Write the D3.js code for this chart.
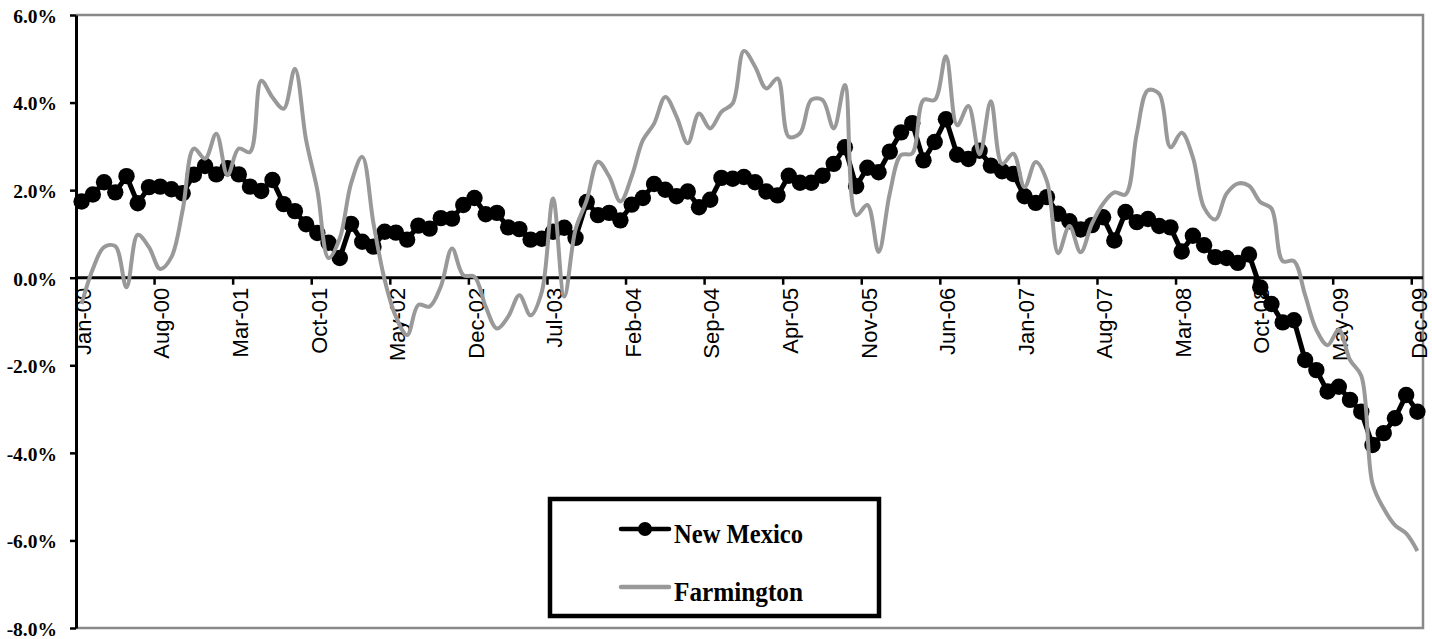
<!DOCTYPE html>
<html>
<head>
<meta charset="utf-8">
<script src="https://cdn.jsdelivr.net/npm/d3@7"></script>
<style>
  html, body { margin: 0; padding: 0; background: #fff; }
  svg { display: block; }
</style>
</head>
<body>
<svg id="chart" width="1432" height="639"></svg>
<script>
// ---- Data ----
const categories = d3.timeMonth.range(new Date(2000, 0, 1), new Date(2010, 0, 1)).map(d3.timeFormat("%b-%y"));
const tickLabels = ["Jan-00","Aug-00","Mar-01","Oct-01","May-02","Dec-02","Jul-03","Feb-04","Sep-04","Apr-05","Nov-05","Jun-06","Jan-07","Aug-07","Mar-08","Oct-08","May-09","Dec-09"];
const yTicks = [-8, -6, -4, -2, 0, 2, 4, 6];
const seriesNames = ["New Mexico", "Farmington"];

const newMexico = [
  1.74, 1.90, 2.18, 1.95, 2.32, 1.70, 2.07, 2.08, 2.02, 1.93,
  2.35, 2.55, 2.36, 2.50, 2.36, 2.08, 1.98, 2.23, 1.68, 1.52,
  1.22, 1.02, 0.80, 0.45, 1.23, 0.82, 0.71, 1.05, 1.03, 0.87,
  1.19, 1.12, 1.36, 1.35, 1.66, 1.82, 1.45, 1.48, 1.15, 1.11,
  0.87, 0.89, 1.05, 1.14, 0.91, 1.73, 1.43, 1.48, 1.31, 1.67,
  1.82, 2.14, 2.01, 1.86, 1.97, 1.61, 1.78, 2.28, 2.26, 2.30,
  2.18, 1.97, 1.88, 2.33, 2.17, 2.17, 2.33, 2.60, 2.98, 2.09,
  2.51, 2.41, 2.88, 3.32, 3.53, 2.68, 3.10, 3.62, 2.81, 2.71,
  2.90, 2.56, 2.43, 2.37, 1.86, 1.71, 1.84, 1.46, 1.29, 1.10,
  1.20, 1.38, 0.85, 1.50, 1.27, 1.34, 1.18, 1.15, 0.60, 0.96,
  0.74, 0.47, 0.45, 0.34, 0.53, -0.22, -0.60, -1.02, -0.97, -1.88,
  -2.11, -2.60, -2.49, -2.79, -3.06, -3.82, -3.55, -3.21, -2.68, -3.06
];

const farmington = [
  -0.60, 0.20, 0.70, 0.72, -0.22, 0.98, 0.70, 0.20, 0.47, 1.54,
  2.95, 2.72, 3.29, 2.34, 2.95, 2.87, 4.50, 4.12, 3.86, 4.77,
  3.14, 2.00, 0.45, 0.90, 2.15, 2.76, 1.24, -0.05, -0.89, -1.31,
  -0.62, -0.66, -0.20, 0.67, 0.06, 0.02, -0.66, -1.16, -0.89, -0.40,
  -0.86, -0.32, 1.81, -0.43, 1.10, 1.77, 2.65, 2.31, 1.74, 2.31,
  3.14, 3.52, 4.13, 3.68, 3.07, 3.75, 3.41, 3.79, 3.98, 5.18,
  4.82, 4.32, 4.55, 3.22, 3.30, 4.06, 4.06, 3.41, 4.40, 1.43,
  1.66, 0.59, 1.93, 2.80, 2.84, 4.06, 4.06, 5.06, 3.48, 3.92,
  2.82, 4.03, 2.60, 2.83, 2.07, 2.64, 2.20, 0.56, 1.18, 0.58,
  1.23, 1.69, 1.95, 1.90, 3.29, 4.28, 4.20, 2.98, 3.31, 2.75,
  1.60, 1.33, 1.92, 2.15, 2.10, 1.73, 1.58, 0.38, 0.38, -0.40,
  -1.19, -1.54, -1.19, -1.88, -2.24, -4.70, -5.27, -5.65, -5.84, -6.24
];

(function () {
// ---- Layout ----
const pLeft = 76, pRight = 1423, pTop = 15, pBottom = 628;
const svg = d3.select("#chart");

const x = d3.scaleBand().domain(categories).range([pLeft, pRight]).paddingInner(0).paddingOuter(0);
const y = d3.scaleLinear().domain([-8, 6]).range([pBottom, pTop]);
const cx = c => x(c) + x.bandwidth() / 2;

// plot frame (gray top / right / bottom)
svg.append("path")
  .attr("d", `M${pLeft},${y(6)}H${pRight}V${y(-8)}H${pLeft}`)
  .attr("fill", "none").attr("stroke", "#898989").attr("stroke-width", 2.5);

// Y axis
const yAxis = d3.axisLeft(y).tickValues(yTicks).tickSize(6).tickSizeOuter(0)
  .tickFormat(d => d.toFixed(1) + "%");
const gy = svg.append("g").attr("transform", `translate(${pLeft},0)`).call(yAxis);
gy.select(".domain").attr("stroke", "#000").attr("stroke-width", 3);
gy.selectAll(".tick line").attr("stroke", "#000").attr("stroke-width", 2.5);
gy.selectAll(".tick text")
  .attr("x", -19).attr("dy", "0.38em")
  .attr("fill", "#000")
  .style("font-family", "'Liberation Serif', 'Times New Roman', serif")
  .style("font-weight", "bold").style("font-size", "19.5px");

// zero line (category axis)
const y0 = y(0);
svg.append("line").attr("x1", pLeft).attr("x2", pRight).attr("y1", y0).attr("y2", y0)
  .attr("stroke", "#000").attr("stroke-width", 3);

const labelSet = new Set(tickLabels);
const tickCats = categories.filter((c, i) => i > 0 && labelSet.has(c));
svg.append("g").selectAll("line").data(tickCats).join("line")
  .attr("x1", d => x(d)).attr("x2", d => x(d))
  .attr("y1", y0).attr("y2", y0 + 7)
  .attr("stroke", "#000").attr("stroke-width", 2.5);

svg.append("g").selectAll("text").data(tickLabels).join("text")
  .attr("transform", d => `translate(${cx(d) + 1.5},${y0 + 10}) rotate(-90)`)
  .attr("text-anchor", "end").attr("dy", "0.35em")
  .style("font-family", "'Liberation Sans', Arial, sans-serif")
  .style("font-size", "22px").attr("fill", "#000")
  .text(d => d);

// series
const lineNM = d3.line().x((d, i) => cx(categories[i])).y(d => y(d));
const lineF = d3.line().x((d, i) => cx(categories[i])).y(d => y(d)).curve(d3.curveCatmullRom.alpha(0.5));

svg.append("path").datum(newMexico).attr("d", lineNM)
  .attr("fill", "none").attr("stroke", "#000").attr("stroke-width", 5).attr("stroke-linejoin", "round");
svg.append("g").selectAll("circle").data(newMexico).join("circle")
  .attr("cx", (d, i) => cx(categories[i])).attr("cy", d => y(d)).attr("r", 8.2).attr("fill", "#000");

svg.append("path").datum(farmington).attr("d", lineF)
  .attr("fill", "none").attr("stroke", "#999999").attr("stroke-width", 4).attr("stroke-linejoin", "round");

// legend
const lg = svg.append("g");
lg.append("rect").attr("x", 550).attr("y", 499).attr("width", 329).attr("height", 117)
  .attr("fill", "#fff").attr("stroke", "#000").attr("stroke-width", 4.5);
const items = [
  { name: seriesNames[0], color: "#000", marker: true, ly: 529, ty: 543 },
  { name: seriesNames[1], color: "#999999", marker: false, ly: 587, ty: 601 }
];
items.forEach(it => {
  lg.append("line").attr("x1", 621).attr("x2", 669).attr("y1", it.ly).attr("y2", it.ly)
    .attr("stroke", it.color).attr("stroke-width", 4.5).attr("stroke-linecap", "round");
  if (it.marker) lg.append("circle").attr("cx", 645).attr("cy", it.ly).attr("r", 7).attr("fill", "#000");
  lg.append("text").attr("x", 674).attr("y", it.ty)
    .style("font-family", "'Liberation Serif', 'Times New Roman', serif")
    .style("font-weight", "bold").style("font-size", "28px")
    .attr("textLength", 129).attr("lengthAdjust", "spacingAndGlyphs")
    .attr("fill", "#000").text(it.name);
});
})();
</script>
</body>
</html>
